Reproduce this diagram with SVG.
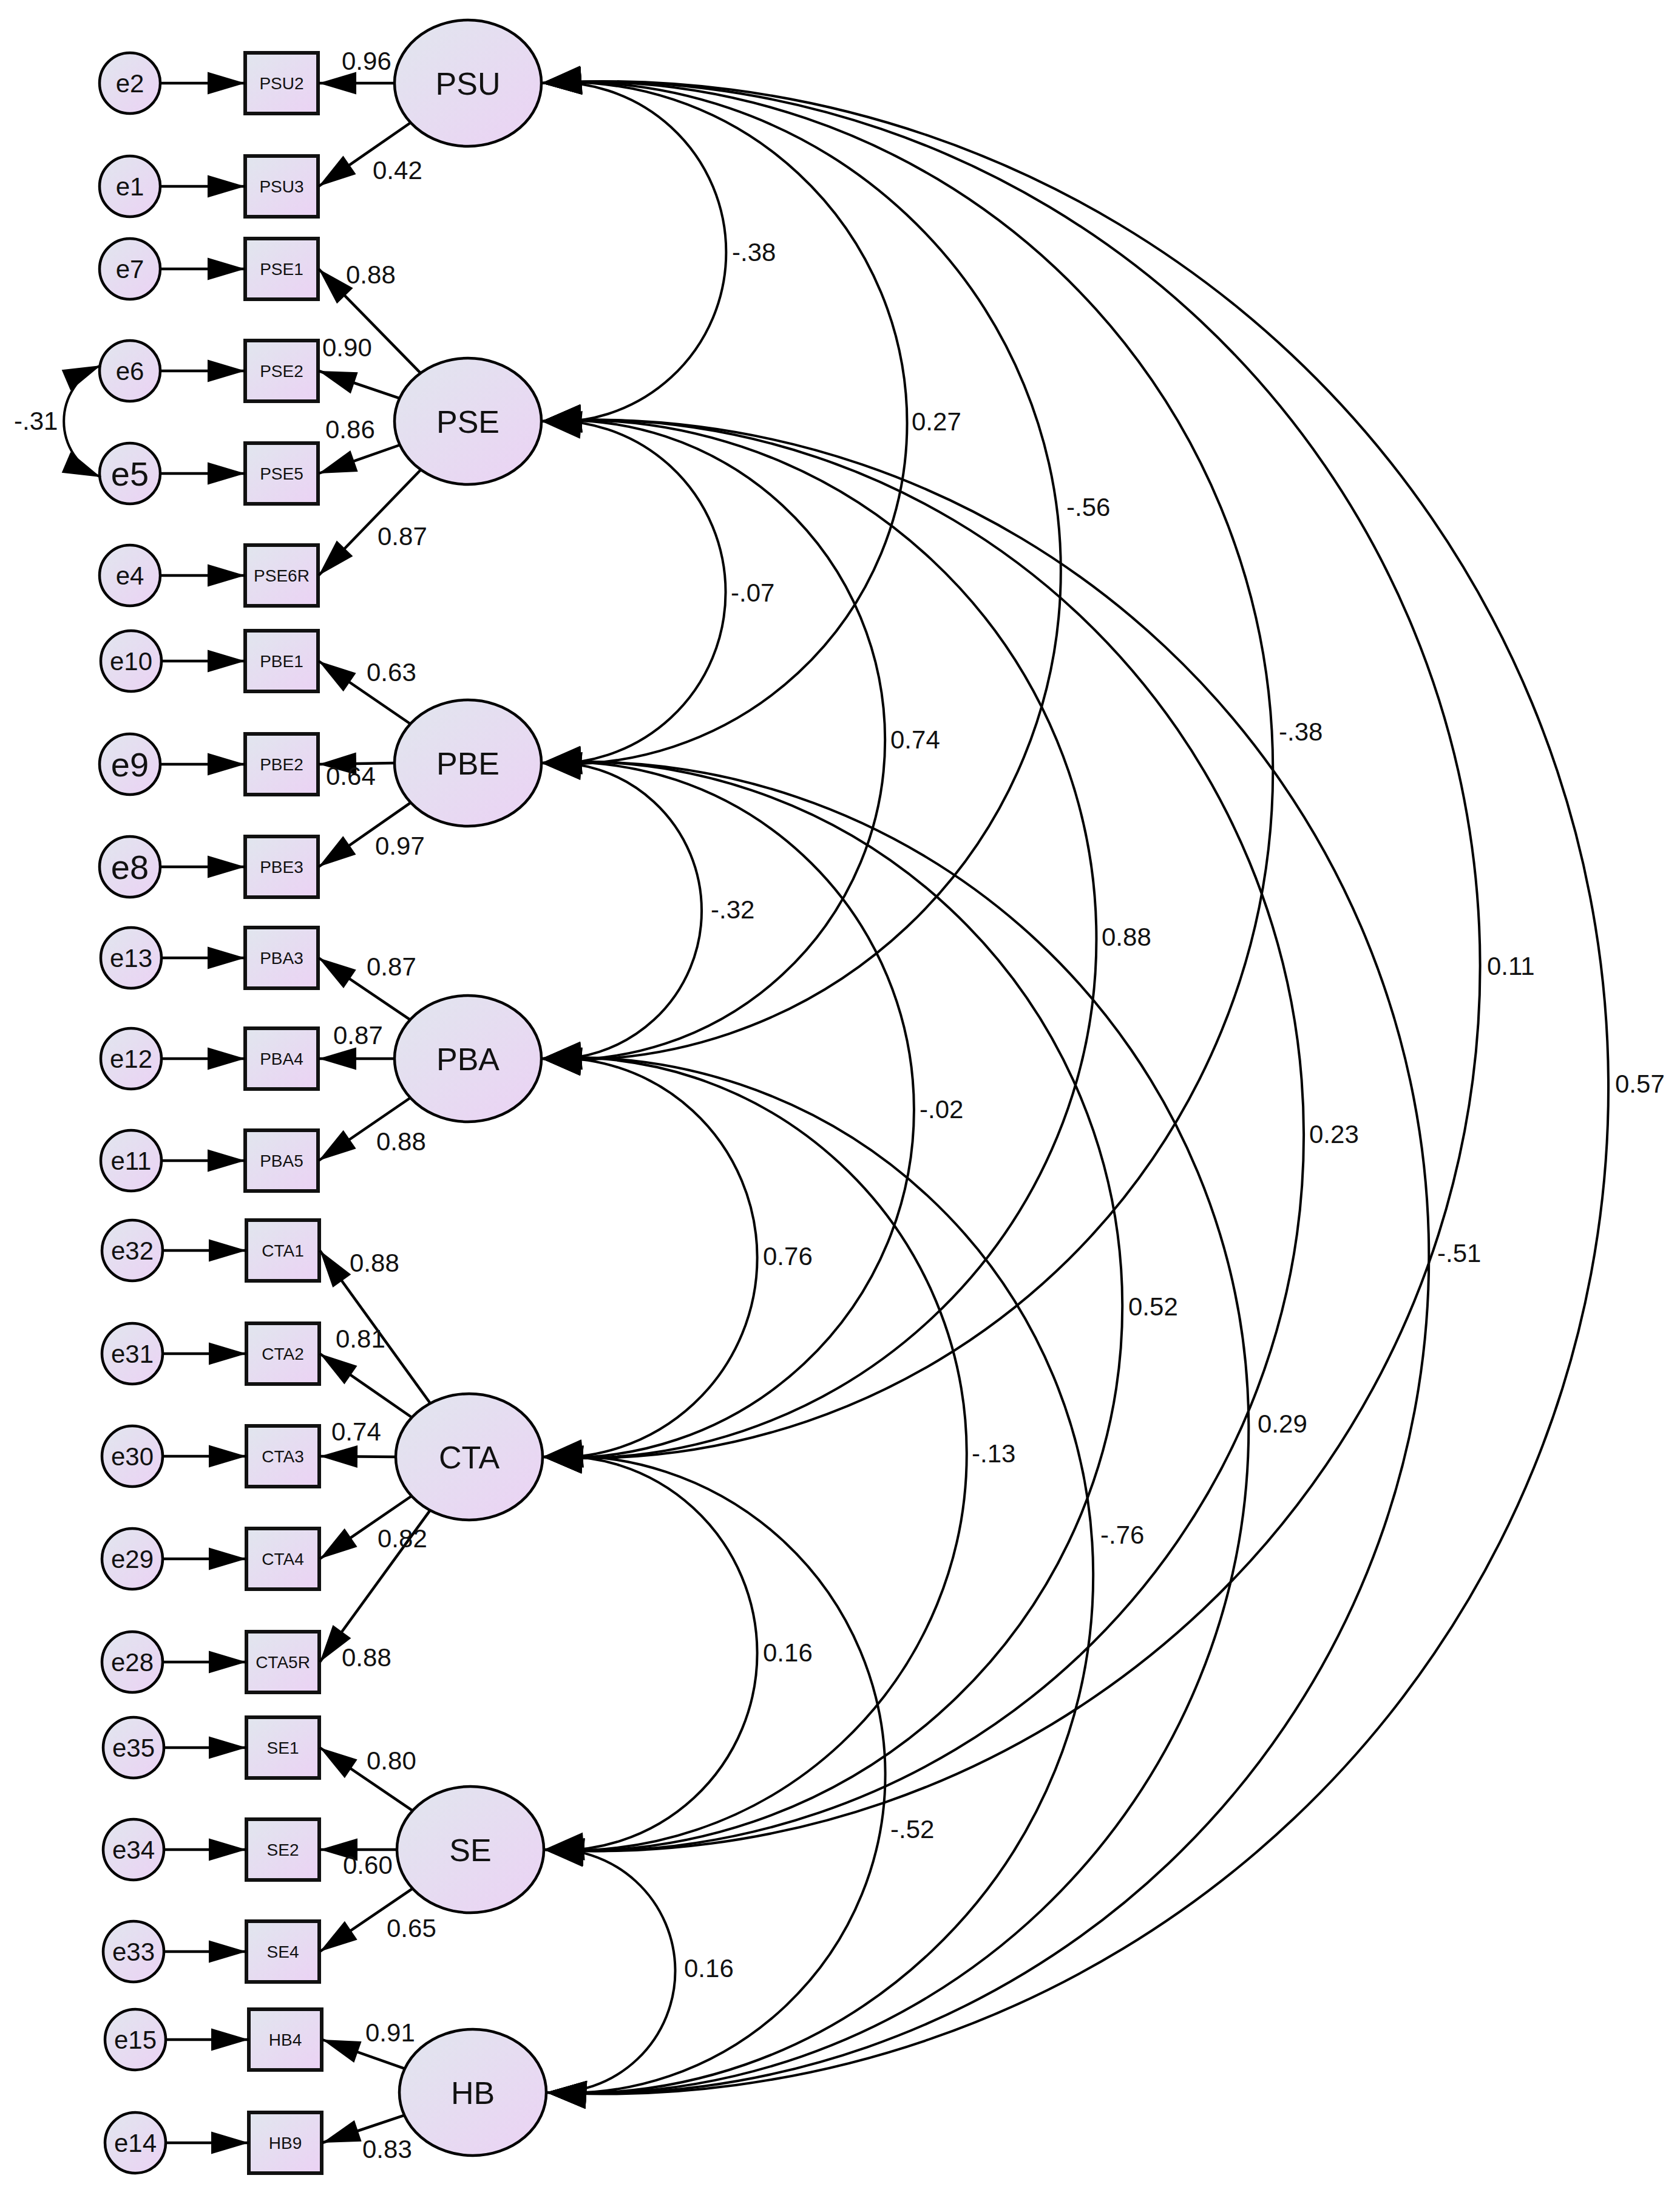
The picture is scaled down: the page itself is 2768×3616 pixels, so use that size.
<svg xmlns="http://www.w3.org/2000/svg" width="2768" height="3616" viewBox="0 0 2768 3616">
<defs>
<linearGradient id="g" x1="0" y1="0" x2="1" y2="1">
<stop offset="0" stop-color="#e1e6ee"/>
<stop offset="1" stop-color="#ebd2f4"/>
</linearGradient>
<marker id="ah" viewBox="-64 -20 66 40" refX="0" refY="0" markerWidth="66" markerHeight="40" markerUnits="userSpaceOnUse" orient="auto-start-reverse">
<path d="M0,0 L-62,-18.5 L-62,18.5 Z" fill="#000"/>
</marker>
<marker id="ahc" viewBox="-68 -25 70 50" refX="0" refY="0" markerWidth="70" markerHeight="50" markerUnits="userSpaceOnUse" orient="auto-start-reverse">
<path d="M0,0 L-66,-23 L-66,23 Z" fill="#000"/>
</marker>
<style>
.lat{fill:url(#g);stroke:#000;stroke-width:4.5}
.obs{fill:url(#g);stroke:#111;stroke-width:6}
.err{fill:url(#g);stroke:#000;stroke-width:4.5}
.t{font-family:"Liberation Sans",Arial,sans-serif;fill:#111}
.lt{font-size:52px;text-anchor:middle}
.ot{font-size:28px;text-anchor:middle}
.et{font-size:42px;text-anchor:middle}
.eb{font-size:56px;text-anchor:middle}
.nt{font-size:42px}
.ln{fill:none;stroke:#000;stroke-width:4.5;marker-end:url(#ah)}
.arc{fill:none;stroke:#000;stroke-width:4;marker-start:url(#ahc);marker-end:url(#ahc)}
.arcs{fill:none;stroke:#000;stroke-width:4;marker-start:url(#ah);marker-end:url(#ah)}
</style>
</defs>
<rect width="2768" height="3616" fill="#fff"/>

<!-- latent nodes -->
<g id="PSU"><ellipse class="lat" cx="771" cy="137" rx="121" ry="104"/><text class="t lt" x="771" y="156">PSU</text></g>
<g id="PSE"><ellipse class="lat" cx="771" cy="694" rx="121" ry="104"/><text class="t lt" x="771" y="713">PSE</text></g>
<g id="PBE"><ellipse class="lat" cx="771" cy="1257" rx="121" ry="104"/><text class="t lt" x="771" y="1276">PBE</text></g>
<g id="PBA"><ellipse class="lat" cx="771" cy="1744" rx="121" ry="104"/><text class="t lt" x="771" y="1763">PBA</text></g>
<g id="CTA"><ellipse class="lat" cx="773" cy="2400" rx="121" ry="104"/><text class="t lt" x="773" y="2419">CTA</text></g>
<g id="SE"><ellipse class="lat" cx="775" cy="3047" rx="121" ry="104"/><text class="t lt" x="775" y="3066">SE</text></g>
<g id="HB"><ellipse class="lat" cx="779" cy="3447" rx="121" ry="104"/><text class="t lt" x="779" y="3466">HB</text></g>

<!-- observed nodes -->
<g id="PSU2"><rect class="obs" x="404" y="87" width="120" height="100"/><text class="t ot" x="464" y="147">PSU2</text></g>
<g id="PSU3"><rect class="obs" x="404" y="257" width="120" height="100"/><text class="t ot" x="464" y="317">PSU3</text></g>
<g id="PSE1"><rect class="obs" x="404" y="393" width="120" height="100"/><text class="t ot" x="464" y="453">PSE1</text></g>
<g id="PSE2"><rect class="obs" x="404" y="561" width="120" height="100"/><text class="t ot" x="464" y="621">PSE2</text></g>
<g id="PSE5"><rect class="obs" x="404" y="730" width="120" height="100"/><text class="t ot" x="464" y="790">PSE5</text></g>
<g id="PSE6R"><rect class="obs" x="404" y="898" width="120" height="100"/><text class="t ot" x="464" y="958">PSE6R</text></g>
<g id="PBE1"><rect class="obs" x="404" y="1039" width="120" height="100"/><text class="t ot" x="464" y="1099">PBE1</text></g>
<g id="PBE2"><rect class="obs" x="404" y="1209" width="120" height="100"/><text class="t ot" x="464" y="1269">PBE2</text></g>
<g id="PBE3"><rect class="obs" x="404" y="1378" width="120" height="100"/><text class="t ot" x="464" y="1438">PBE3</text></g>
<g id="PBA3"><rect class="obs" x="404" y="1528" width="120" height="100"/><text class="t ot" x="464" y="1588">PBA3</text></g>
<g id="PBA4"><rect class="obs" x="404" y="1694" width="120" height="100"/><text class="t ot" x="464" y="1754">PBA4</text></g>
<g id="PBA5"><rect class="obs" x="404" y="1862" width="120" height="100"/><text class="t ot" x="464" y="1922">PBA5</text></g>
<g id="CTA1"><rect class="obs" x="406" y="2010" width="120" height="100"/><text class="t ot" x="466" y="2070">CTA1</text></g>
<g id="CTA2"><rect class="obs" x="406" y="2180" width="120" height="100"/><text class="t ot" x="466" y="2240">CTA2</text></g>
<g id="CTA3"><rect class="obs" x="406" y="2349" width="120" height="100"/><text class="t ot" x="466" y="2409">CTA3</text></g>
<g id="CTA4"><rect class="obs" x="406" y="2518" width="120" height="100"/><text class="t ot" x="466" y="2578">CTA4</text></g>
<g id="CTA5R"><rect class="obs" x="406" y="2688" width="120" height="100"/><text class="t ot" x="466" y="2748">CTA5R</text></g>
<g id="SE1"><rect class="obs" x="406" y="2829" width="120" height="100"/><text class="t ot" x="466" y="2889">SE1</text></g>
<g id="SE2"><rect class="obs" x="406" y="2997" width="120" height="100"/><text class="t ot" x="466" y="3057">SE2</text></g>
<g id="SE4"><rect class="obs" x="406" y="3165" width="120" height="100"/><text class="t ot" x="466" y="3225">SE4</text></g>
<g id="HB4"><rect class="obs" x="410" y="3310" width="120" height="100"/><text class="t ot" x="470" y="3370">HB4</text></g>
<g id="HB9"><rect class="obs" x="410" y="3480" width="120" height="100"/><text class="t ot" x="470" y="3540">HB9</text></g>

<!-- error nodes -->
<g id="e2"><circle class="err" cx="214" cy="137" r="50"/><text class="t et" x="214" y="152">e2</text></g>
<g id="e1"><circle class="err" cx="214" cy="307" r="50"/><text class="t et" x="214" y="322">e1</text></g>
<g id="e7"><circle class="err" cx="214" cy="443" r="50"/><text class="t et" x="214" y="458">e7</text></g>
<g id="e6"><circle class="err" cx="214" cy="611" r="50"/><text class="t et" x="214" y="626">e6</text></g>
<g id="e5"><circle class="err" cx="214" cy="780" r="50"/><text class="t eb" x="214" y="800">e5</text></g>
<g id="e4"><circle class="err" cx="214" cy="948" r="50"/><text class="t et" x="214" y="963">e4</text></g>
<g id="e10"><circle class="err" cx="216" cy="1089" r="50"/><text class="t et" x="216" y="1104">e10</text></g>
<g id="e9"><circle class="err" cx="214" cy="1259" r="50"/><text class="t eb" x="214" y="1279">e9</text></g>
<g id="e8"><circle class="err" cx="214" cy="1428" r="50"/><text class="t eb" x="214" y="1448">e8</text></g>
<g id="e13"><circle class="err" cx="216" cy="1578" r="50"/><text class="t et" x="216" y="1593">e13</text></g>
<g id="e12"><circle class="err" cx="216" cy="1744" r="50"/><text class="t et" x="216" y="1759">e12</text></g>
<g id="e11"><circle class="err" cx="216" cy="1912" r="50"/><text class="t et" x="216" y="1927">e11</text></g>
<g id="e32"><circle class="err" cx="218" cy="2060" r="50"/><text class="t et" x="218" y="2075">e32</text></g>
<g id="e31"><circle class="err" cx="218" cy="2230" r="50"/><text class="t et" x="218" y="2245">e31</text></g>
<g id="e30"><circle class="err" cx="218" cy="2399" r="50"/><text class="t et" x="218" y="2414">e30</text></g>
<g id="e29"><circle class="err" cx="218" cy="2568" r="50"/><text class="t et" x="218" y="2583">e29</text></g>
<g id="e28"><circle class="err" cx="218" cy="2738" r="50"/><text class="t et" x="218" y="2753">e28</text></g>
<g id="e35"><circle class="err" cx="220" cy="2879" r="50"/><text class="t et" x="220" y="2894">e35</text></g>
<g id="e34"><circle class="err" cx="220" cy="3047" r="50"/><text class="t et" x="220" y="3062">e34</text></g>
<g id="e33"><circle class="err" cx="220" cy="3215" r="50"/><text class="t et" x="220" y="3230">e33</text></g>
<g id="e15"><circle class="err" cx="223" cy="3360" r="50"/><text class="t et" x="223" y="3375">e15</text></g>
<g id="e14"><circle class="err" cx="223" cy="3530" r="50"/><text class="t et" x="223" y="3545">e14</text></g>

<!-- connectors -->
<g id="connectors">
<!-- error to observed -->
<path class="ln" d="M264,137 H404"/>
<path class="ln" d="M264,307 H404"/>
<path class="ln" d="M264,443 H404"/>
<path class="ln" d="M264,611 H404"/>
<path class="ln" d="M264,780 H404"/>
<path class="ln" d="M264,948 H404"/>
<path class="ln" d="M266,1089 H404"/>
<path class="ln" d="M264,1259 H404"/>
<path class="ln" d="M264,1428 H404"/>
<path class="ln" d="M266,1578 H404"/>
<path class="ln" d="M266,1744 H404"/>
<path class="ln" d="M266,1912 H404"/>
<path class="ln" d="M268,2060 H406"/>
<path class="ln" d="M268,2230 H406"/>
<path class="ln" d="M268,2399 H406"/>
<path class="ln" d="M268,2568 H406"/>
<path class="ln" d="M268,2738 H406"/>
<path class="ln" d="M270,2879 H406"/>
<path class="ln" d="M270,3047 H406"/>
<path class="ln" d="M270,3215 H406"/>
<path class="ln" d="M273,3360 H410"/>
<path class="ln" d="M273,3530 H410"/>
<!-- loadings -->
<path class="ln" d="M650,137 L525,137"/>
<path class="ln" d="M676.6,202 L525,307"/>
<path class="ln" d="M692.9,614.6 L525,443"/>
<path class="ln" d="M658.3,656.1 L525,611"/>
<path class="ln" d="M658.9,733 L525,780"/>
<path class="ln" d="M693.4,773.8 L525,948"/>
<path class="ln" d="M676.1,1192.5 L525,1089"/>
<path class="ln" d="M650,1257 L525,1259"/>
<path class="ln" d="M676.8,1322.2 L525,1428"/>
<path class="ln" d="M675.7,1679.9 L525,1578"/>
<path class="ln" d="M650,1744 L525,1744"/>
<path class="ln" d="M676.1,1808.5 L525,1912"/>
<path class="ln" d="M708.9,2311.8 L527,2060"/>
<path class="ln" d="M678.5,2335 L527,2230"/>
<path class="ln" d="M652,2400 L527,2399"/>
<path class="ln" d="M678.1,2464.5 L527,2568"/>
<path class="ln" d="M708.6,2488.1 L527,2738"/>
<path class="ln" d="M679.8,2982.8 L527,2879"/>
<path class="ln" d="M654,3047 L527,3047"/>
<path class="ln" d="M679.8,3111.2 L527,3215"/>
<path class="ln" d="M666.9,3407.8 L531,3360"/>
<path class="ln" d="M666.2,3484.6 L531,3530"/>
<!-- error covariance e6-e5 -->
<path class="arcs" d="M166,602 A100,100 0 0 0 166,786"/>
<!-- latent covariances -->
<path class="arc" d="M892,137 A279.6,279.6 0 1 1 892,694"/>
<path class="arc" d="M892,137 A561.5,561.5 0 1 1 892,1257"/>
<path class="arc" d="M892,137 A805.1,805.1 0 1 1 892,1744"/>
<path class="arc" d="M892,137 A1133.7,1133.7 0 1 1 894,2400"/>
<path class="arc" d="M892,137 A1457.6,1457.6 0 1 1 896,3047"/>
<path class="arc" d="M892,137 A1657.8,1657.8 0 1 1 900,3447"/>
<path class="arc" d="M892,694 A282.3,282.3 0 1 1 892,1257"/>
<path class="arc" d="M892,694 A526.5,526.5 0 1 1 892,1744"/>
<path class="arc" d="M892,694 A855,855 0 1 1 894,2400"/>
<path class="arc" d="M892,694 A1178.9,1178.9 0 1 1 896,3047"/>
<path class="arc" d="M892,694 A1378.8,1378.8 0 1 1 900,3447"/>
<path class="arc" d="M892,1257 A244.3,244.3 0 1 1 892,1744"/>
<path class="arc" d="M892,1257 A572.9,572.9 0 1 1 894,2400"/>
<path class="arc" d="M892,1257 A896.9,896.9 0 1 1 896,3047"/>
<path class="arc" d="M892,1257 A1096.9,1096.9 0 1 1 900,3447"/>
<path class="arc" d="M892,1744 A329,329 0 1 1 894,2400"/>
<path class="arc" d="M892,1744 A653.1,653.1 0 1 1 896,3047"/>
<path class="arc" d="M892,1744 A853.1,853.1 0 1 1 900,3447"/>
<path class="arc" d="M894,2400 A324.7,324.7 0 1 1 896,3047"/>
<path class="arc" d="M894,2400 A524.8,524.8 0 1 1 900,3447"/>
<path class="arc" d="M896,3047 A200.5,200.5 0 1 1 900,3447"/>
</g>

<!-- connector labels -->
<g id="labels" class="t nt">
<text x="563" y="115">0.96</text>
<text x="614" y="295">0.42</text>
<text x="570" y="467">0.88</text>
<text x="531" y="587">0.90</text>
<text x="536" y="722">0.86</text>
<text x="622" y="898">0.87</text>
<text x="604" y="1122">0.63</text>
<text x="537" y="1293">0.64</text>
<text x="618" y="1408">0.97</text>
<text x="604" y="1607">0.87</text>
<text x="549" y="1720">0.87</text>
<text x="620" y="1895">0.88</text>
<text x="576" y="2095">0.88</text>
<text x="553" y="2220">0.81</text>
<text x="546" y="2373">0.74</text>
<text x="622" y="2549">0.82</text>
<text x="563" y="2745">0.88</text>
<text x="604" y="2915">0.80</text>
<text x="565" y="3087">0.60</text>
<text x="637" y="3191">0.65</text>
<text x="602" y="3363">0.91</text>
<text x="597" y="3555">0.83</text>
<text x="23" y="708">-.31</text>
<text x="1206" y="430">-.38</text>
<text x="1502" y="709">0.27</text>
<text x="1757" y="850">-.56</text>
<text x="1204" y="991">-.07</text>
<text x="1467" y="1233">0.74</text>
<text x="2107" y="1220">-.38</text>
<text x="1171" y="1513">-.32</text>
<text x="1815" y="1558">0.88</text>
<text x="2450" y="1606">0.11</text>
<text x="2661" y="1800">0.57</text>
<text x="1515" y="1842">-.02</text>
<text x="2157" y="1883">0.23</text>
<text x="1257" y="2084">0.76</text>
<text x="2368" y="2079">-.51</text>
<text x="1859" y="2167">0.52</text>
<text x="2072" y="2360">0.29</text>
<text x="1601" y="2409">-.13</text>
<text x="1813" y="2543">-.76</text>
<text x="1257" y="2737">0.16</text>
<text x="1467" y="3028">-.52</text>
<text x="1127" y="3257">0.16</text>
</g>
</svg>
